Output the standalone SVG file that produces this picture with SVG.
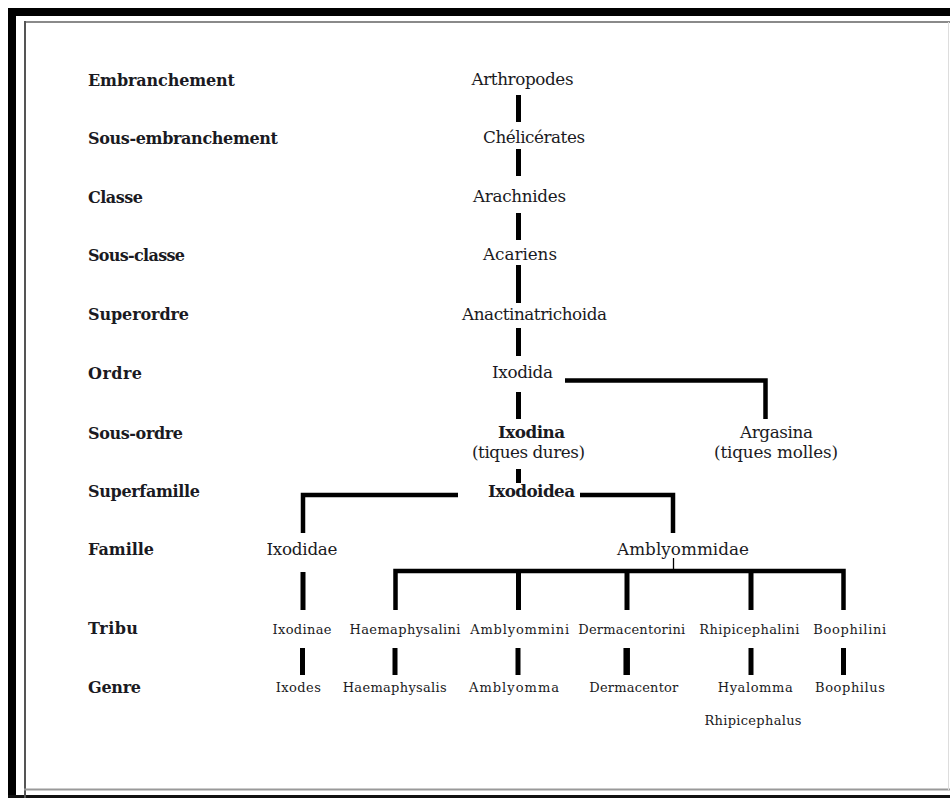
<svg xmlns="http://www.w3.org/2000/svg" width="950" height="798" viewBox="0 0 950 798">
<style>
.rank{font-family:"DejaVu Serif","Liberation Serif",serif;font-weight:bold;font-size:16px;fill:#1a1a22}
.n{font-family:"DejaVu Serif","Liberation Serif",serif;font-size:16.8px;fill:#1a1a22;text-anchor:middle}
.b{font-weight:bold}
.s{font-family:"DejaVu Serif","Liberation Serif",serif;font-size:13px;fill:#1a1a22;text-anchor:middle}
.c{fill:none;stroke:#000;stroke-width:5}
.h{fill:none;stroke:#000;stroke-width:4.5}
</style>
<rect width="950" height="798" fill="#fff"/>
<g id="frame">
<rect x="8" y="8" width="942" height="8" fill="#000"/>
<rect x="8" y="8" width="8" height="790" fill="#000"/>
<rect x="8" y="795" width="942" height="3" fill="#111"/>
<line x1="24" y1="22" x2="950" y2="22" stroke="#8a8a8a" stroke-width="2"/>
<line x1="25" y1="21" x2="25" y2="798" stroke="#555" stroke-width="2"/>
<line x1="24" y1="789.5" x2="950" y2="789.5" stroke="#999" stroke-width="2"/>
<line x1="948.5" y1="22" x2="948.5" y2="790" stroke="#ddd" stroke-width="1"/>
</g>
<g id="ranks">
<text class="rank" x="88" y="86" textLength="147">Embranchement</text>
<text class="rank" x="88" y="144" textLength="190">Sous-embranchement</text>
<text class="rank" x="88" y="203" textLength="55">Classe</text>
<text class="rank" x="88" y="261" textLength="97">Sous-classe</text>
<text class="rank" x="88" y="320" textLength="101">Superordre</text>
<text class="rank" x="88" y="379" textLength="54">Ordre</text>
<text class="rank" x="88" y="439" textLength="95">Sous-ordre</text>
<text class="rank" x="88" y="497" textLength="112">Superfamille</text>
<text class="rank" x="88" y="555" textLength="66">Famille</text>
<text class="rank" x="88" y="634" textLength="50">Tribu</text>
<text class="rank" x="88" y="693" textLength="53">Genre</text>
</g>
<g id="connectors">
<path class="c" d="M518.5,95V122M518.5,149V176M518.5,213V240M518.5,265V303M518.5,328V356M518.5,392V419M518.5,469V483"/>
<path class="h" d="M565,380.5H765.5V419"/>
<path class="h" d="M458,495H303V533"/>
<path class="h" d="M580,495H673V533"/>
<path class="c" d="M303,572V610"/>
<path class="h" d="M395.5,610V571H843.5V610"/>
<path class="c" d="M518.5,571V610M627,571V610M751,571V610"/>
<line x1="673.5" y1="558" x2="673.5" y2="571" stroke="#000" stroke-width="1.3"/>
<path class="c" d="M302.5,648V675M395,648V675M518,648V675M751,648V675M843.5,648V675"/>
<path class="c" style="stroke-width:6.5" d="M626.7,648V675"/>
</g>
<g id="arthropodes"><text class="n" x="522.5" y="85" textLength="102">Arthropodes</text></g>
<g id="chelicerates"><text class="n" x="534" y="143" textLength="102">Chélicérates</text></g>
<g id="arachnides"><text class="n" x="519.5" y="201.5" textLength="93">Arachnides</text></g>
<g id="acariens"><text class="n" x="520" y="260" textLength="74">Acariens</text></g>
<g id="anactinatrichoida"><text class="n" x="534.5" y="320" textLength="145">Anactinatrichoida</text></g>
<g id="ixodida"><text class="n" x="522.5" y="377.5" textLength="61">Ixodida</text></g>
<g id="ixodina"><text class="n b" x="531.5" y="438" textLength="67">Ixodina</text><text class="n" x="528.5" y="457.5" textLength="113">(tiques dures)</text></g>
<g id="argasina"><text class="n" x="776.5" y="438" textLength="73">Argasina</text><text class="n" x="776" y="457.5" textLength="124">(tiques molles)</text></g>
<g id="ixodoidea"><text class="n b" x="531.5" y="496.5" textLength="87">Ixodoidea</text></g>
<g id="ixodidae"><text class="n" x="302" y="555" textLength="71">Ixodidae</text></g>
<g id="amblyommidae"><text class="n" x="683" y="555" textLength="132">Amblyommidae</text></g>
<g id="ixodinae"><text class="s" x="302" y="633.5" textLength="59">Ixodinae</text></g>
<g id="haemaphysalini"><text class="s" x="405" y="633.5" textLength="111">Haemaphysalini</text></g>
<g id="amblyommini"><text class="s" x="519.7" y="633.5" textLength="99">Amblyommini</text></g>
<g id="dermacentorini"><text class="s" x="631.7" y="633.5" textLength="107">Dermacentorini</text></g>
<g id="rhipicephalini"><text class="s" x="749.3" y="633.5" textLength="100">Rhipicephalini</text></g>
<g id="boophilini"><text class="s" x="849.7" y="633.5" textLength="73">Boophilini</text></g>
<g id="ixodes"><text class="s" x="298.3" y="691.7" textLength="45">Ixodes</text></g>
<g id="haemaphysalis"><text class="s" x="394.7" y="691.7" textLength="104">Haemaphysalis</text></g>
<g id="amblyomma"><text class="s" x="514" y="691.7" textLength="90">Amblyomma</text></g>
<g id="dermacentor"><text class="s" x="633.8" y="691.7" textLength="89">Dermacentor</text></g>
<g id="hyalomma"><text class="s" x="755.2" y="691.7" textLength="75">Hyalomma</text></g>
<g id="boophilus"><text class="s" x="850" y="691.7" textLength="70">Boophilus</text></g>
<g id="rhipicephalus"><text class="s" x="753" y="725" textLength="97">Rhipicephalus</text></g>
</svg>
